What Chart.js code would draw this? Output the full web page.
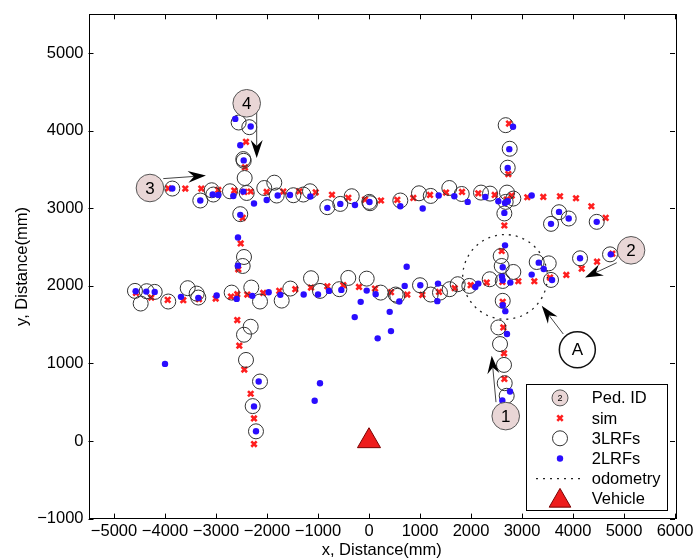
<!DOCTYPE html>
<html>
<head>
<meta charset="utf-8">
<script src="https://cdn.jsdelivr.net/npm/chart.js@4"></script>
<style>
  html, body { margin: 0; padding: 0; background: #fff; }
</style>
</head>
<body>
<canvas id="chart" width="695" height="560"></canvas>
<script>
// axis ticks
const xTicks = [-5000, -4000, -3000, -2000, -1000, 0, 1000, 2000, 3000, 4000, 5000, 6000];
const yTicks = [-1000, 0, 1000, 2000, 3000, 4000, 5000];

// sim (red crosses)
const simX = [-2412, -2432, -3935, -3602, -3288, -2955, -2641, -2445, -2320, -2006, -1680, -1367, -1045, -726, -406, -78,
  235, 555, 869, 1196, 1510, 1824, 2143, 2465, 2700, 2798, 3104, 3418, 3745, 4059, 4360, 4641, 2745, 2732, 2654, 2602,
  -2477, -2516, -2563, -2583, -2543, -2445, -2320, -2255, -2255,
  -4569, -4269, -3947, -3641, -3334, -3006, -2706, -2583, -2386, -2073, -1759, -1445, -1137, -817, -504, -196,
  118, 431, 751, 1045, 1373, 1680, 1994, 2308, 2615, 2928, 3242, 3549, 3869, 4171, 4471, 4771,
  2622, 2634, 2647, 2654];
const simY = [3857, 3527, 3257, 3254, 3254, 3236, 3228, 3210, 3216, 3210, 3215, 3219, 3206, 3174, 3135, 3112,
  3100, 3108, 3133, 3172, 3202, 3210, 3193, 3172, 3112, 3164, 3142, 3146, 3155, 3129, 3026, 2876, 4092, 3441, 2778, 2449,
  2876, 2547, 2213, 1559, 1229, 921, 609, 291, -39,
  1909, 1849, 1819, 1815, 1828, 1836, 1862, 1892, 1888, 1909, 1935, 1957, 1978, 1995, 2008, 1986,
  1965, 1918, 1888, 1884, 1922, 1970, 2008, 2042, 2051, 2059, 2059, 2106, 2141, 2222, 2311, 2414,
  1794, 1464, 1130, 801];

// 3LRFs (open circles)
const lrf3X = [-2556, -2347, -2465, -2457, -2438, -3857, -3308, -3085, -3052, -2726, -2398, -2053, -1857, -1810, -1484, -1288,
  -1157, -817, -563, -339, 6, 20, 614, 980, 1210, 1575, 1818, 2196, 2373, 2706, 2830, 2680, 2654, 3569, 3726, 3916, 4465,
  2680, 2759, 2720, -2524,
  -2451, -2477, -2320, -2451, -2412, -2137, -2281, -2216,
  -4589, -4360, -4202, -4477, -3936, -3555, -3379, -3347, -2693, -2308, -2137, -1712, -1543, -1137, -961, -582, -406, -45,
  229, 523, 555, 1000, 1210, 1392, 1582, 1739, 1967, 2367,
  2582, 2602, 2830, 2622, 3288, 3524, 3569, 4138, 4726, 2622, 2536, 2569, 2647, 2661, 2700];
const lrf3Y = [4105, 4045, 3634, 3612, 3390, 3254, 3100, 3232, 3177, 3219, 3197, 3261, 3330, 3164, 3168, 3177,
  3219, 3014, 3056, 3155, 3082, 3065, 3100, 3193, 3159, 3261, 3184, 3202, 3189, 3202, 3125, 3082, 2933, 2799, 2949, 2868, 2825,
  4071, 3767, 3523, 2924,
  2372, 2256, 1473, 1370, 1045, 767, 450, 125,
  1935, 1931, 1922, 1772, 1798, 1970, 1900, 1849, 1913, 1978, 1798, 1810, 1965, 2098, 1935, 1957, 2102, 2093,
  1913, 1888, 1871, 2008, 1888, 1913, 1957, 2021, 1999, 2085,
  2384, 2256, 2179, 2063, 2307, 2290, 2076, 2355, 2406, 1807, 1464, 1250, 981, 745, 583];

// 2LRFs (blue dots)
const lrf2X = [-2622, -2320, -2524, -2457, -3857, -3308, -3065, -2955, -2661, -2465, -2255, -2006, -1790, -1549, -1151, -817,
  -563, -275, 10, 614, 1053, 1367, 1673, 1935, 2281, 2536, 2667, 2720, 2654, 3190, 3569, 3726, 3916, 4465, 2824, 2751, 2720, -2524,
  -2569, -2569, -2163, -2255, -2216,
  -4575, -4367, -4202, -3687, -3347, -2987, -2594, -2288, -1967, -1739, -1281, -1000, -784, -543, -45, 131, 700, 1006, 594,
  1353, 1340, 2085, 2143, -163, -280, 739, 406, 431, 170, -4000, -1065, -961,
  2667, 2622, 2608, 2622, 2771, 3328, 3426, 3589, 3190, 4138, 4740, 2622, 2673, 2706, 2765, 2614];
const lrf2Y = [4152, 4054, 3813, 3617, 3254, 3100, 3177, 3171, 3159, 3215, 3061, 3107, 3164, 3171, 3151, 3005,
  3056, 3043, 3080, 3026, 2997, 3164, 3155, 3082, 3146, 3091, 3069, 3091, 2940, 3164, 2799, 2953, 2868, 2825, 4050, 3762, 3518, 2915,
  2624, 2260, 767, 446, 125,
  1931, 1926, 1922, 1858, 1845, 1875, 1832, 1871, 1918, 1884, 1888, 1888, 1935, 1948, 1939, 1893, 1999, 2008, 1798,
  2029, 1803, 1986, 2029, 1794, 1597, 2247, 1665, 1417, 1323, 994, 519, 745,
  2522, 2239, 2119, 2072, 2042, 2299, 2218, 2076, 2145, 2355, 2406, 1751, 1674, 1379, 638, 523];

// vehicle
const vehicleX = [0];
const vehicleY = [0];

// odometry ring (centre in mm, radius in mm along x)
const odoCenter = [2667, 2115];
const odoRadius = 830;

// pedestrian id labels and their arrows
const pedIds = ['1', '2', '3', '4'];
const pedX = [2681, 5138, -4295, -2398];
const pedY = [321, 2458, 3261, 4353];
const arrowFromX = [2490, 4857, -4034, -2202, 3810];
const arrowFromY = [501, 2298, 3382, 4310, 1379];
const arrowToX = [2406, 4236, -3197, -2202, 3387];
const arrowToY = [1100, 2106, 3421, 3647, 1742];
const markA = { text: 'A', x: 4085, y: 1177 };

const FONT = "'Liberation Sans', Arial, sans-serif";
const RED = '#ff1f1f';
const BLUE = '#2a0dff';
const PINK = '#e9d6d6';

function zip(xs, ys) {
  return xs.map((x, i) => ({ x: x, y: ys[i] }));
}

function drawArrow(ctx, x1, y1, x2, y2) {
  const ang = Math.atan2(y2 - y1, x2 - x1);
  const len = 18, half = 6, notch = 12;
  ctx.strokeStyle = '#444';
  ctx.lineWidth = 1;
  ctx.beginPath();
  ctx.moveTo(x1, y1);
  ctx.lineTo(x2 - Math.cos(ang) * notch, y2 - Math.sin(ang) * notch);
  ctx.stroke();
  ctx.save();
  ctx.translate(x2, y2);
  ctx.rotate(ang);
  ctx.fillStyle = '#000';
  ctx.beginPath();
  ctx.moveTo(0, 0);
  ctx.lineTo(-len, -half);
  ctx.lineTo(-notch, 0);
  ctx.lineTo(-len, half);
  ctx.closePath();
  ctx.fill();
  ctx.restore();
}

function badge(ctx, x, y, r, text, fill, size) {
  ctx.beginPath();
  ctx.arc(x, y, r, 0, Math.PI * 2);
  ctx.fillStyle = fill;
  ctx.fill();
  ctx.lineWidth = 1;
  ctx.strokeStyle = '#555';
  ctx.stroke();
  ctx.fillStyle = '#000';
  ctx.font = size + 'px ' + FONT;
  ctx.textAlign = 'center';
  ctx.textBaseline = 'middle';
  ctx.fillText(text, x, y + 1);
}

const decorations = {
  id: 'decorations',
  beforeDatasetsDraw(chart) {
    const { ctx, scales: { x, y } } = chart;
    // odometry dotted ring
    const cx = x.getPixelForValue(odoCenter[0]);
    const cy = y.getPixelForValue(odoCenter[1]);
    const r = x.getPixelForValue(odoCenter[0] + odoRadius) - cx;
    ctx.save();
    ctx.strokeStyle = '#222';
    ctx.lineWidth = 1.3;
    ctx.setLineDash([2, 5]);
    ctx.beginPath();
    ctx.arc(cx, cy, r, 0, Math.PI * 2);
    ctx.stroke();
    ctx.restore();
  },
  afterDatasetsDraw(chart) {
    const { ctx, chartArea: a, scales: { x, y } } = chart;
    ctx.save();
    // frame and inward ticks
    ctx.strokeStyle = '#000';
    ctx.lineWidth = 1;
    ctx.strokeRect(Math.round(a.left) + 0.5, Math.round(a.top) + 0.5, Math.round(a.right - a.left), Math.round(a.bottom - a.top));
    ctx.beginPath();
    xTicks.forEach(v => {
      const px = Math.round(x.getPixelForValue(v)) + 0.5;
      ctx.moveTo(px, a.bottom); ctx.lineTo(px, a.bottom - 5);
      ctx.moveTo(px, a.top); ctx.lineTo(px, a.top + 5);
    });
    yTicks.forEach(v => {
      const py = Math.round(y.getPixelForValue(v)) + 0.5;
      ctx.moveTo(a.left, py); ctx.lineTo(a.left + 5, py);
      ctx.moveTo(a.right, py); ctx.lineTo(a.right - 5, py);
    });
    ctx.stroke();

    // arrows
    arrowFromX.forEach((v, i) => {
      drawArrow(ctx, x.getPixelForValue(v), y.getPixelForValue(arrowFromY[i]),
        x.getPixelForValue(arrowToX[i]), y.getPixelForValue(arrowToY[i]));
    });
    // pedestrian labels
    pedIds.forEach((t, i) => {
      badge(ctx, x.getPixelForValue(pedX[i]), y.getPixelForValue(pedY[i]), 13.8, t, PINK, 17);
    });
    // mark A
    ctx.lineWidth = 1.5;
    ctx.beginPath();
    ctx.arc(x.getPixelForValue(markA.x), y.getPixelForValue(markA.y), 18, 0, Math.PI * 2);
    ctx.fillStyle = '#fff';
    ctx.fill();
    ctx.strokeStyle = '#111';
    ctx.stroke();
    ctx.fillStyle = '#000';
    ctx.font = '17px ' + FONT;
    ctx.textAlign = 'center';
    ctx.textBaseline = 'middle';
    ctx.fillText(markA.text, x.getPixelForValue(markA.x), y.getPixelForValue(markA.y) + 1);

    // legend
    const L = { left: a.right - 149.3, top: a.bottom - 134.2, right: a.right - 8.3, bottom: a.bottom - 8.5 };
    ctx.fillStyle = '#fff';
    ctx.fillRect(L.left, L.top, L.right - L.left, L.bottom - L.top);
    ctx.strokeStyle = '#000';
    ctx.lineWidth = 1;
    ctx.strokeRect(Math.round(L.left) + 0.5, Math.round(L.top) + 0.5, Math.round(L.right - L.left), Math.round(L.bottom - L.top));
    const sx = L.left + 34.3, tx = L.left + 66;
    const rows = ['Ped. ID', 'sim', '3LRFs', '2LRFs', 'odometry', 'Vehicle'];
    rows.forEach((label, i) => {
      const ry = L.top + 13.5 + i * 20.2;
      if (i === 0) {
        badge(ctx, sx, ry, 8, '2', PINK, 9);
      } else if (i === 1) {
        ctx.strokeStyle = RED; ctx.lineWidth = 2.6;
        ctx.beginPath();
        ctx.moveTo(sx - 2.7, ry - 2.7); ctx.lineTo(sx + 2.7, ry + 2.7);
        ctx.moveTo(sx - 2.7, ry + 2.7); ctx.lineTo(sx + 2.7, ry - 2.7);
        ctx.stroke();
      } else if (i === 2) {
        ctx.strokeStyle = '#333'; ctx.lineWidth = 1;
        ctx.beginPath(); ctx.arc(sx, ry, 7.5, 0, Math.PI * 2); ctx.stroke();
      } else if (i === 3) {
        ctx.fillStyle = BLUE;
        ctx.beginPath(); ctx.arc(sx, ry, 3.2, 0, Math.PI * 2); ctx.fill();
      } else if (i === 4) {
        ctx.save();
        ctx.strokeStyle = '#222'; ctx.lineWidth = 1.3; ctx.setLineDash([2, 5]);
        ctx.beginPath(); ctx.moveTo(sx - 24, ry); ctx.lineTo(sx + 24, ry); ctx.stroke();
        ctx.restore();
      } else {
        const r = 12.5;
        ctx.beginPath();
        ctx.moveTo(sx, ry - r + 2);
        ctx.lineTo(sx + 0.866 * r, ry + 0.5 * r + 2);
        ctx.lineTo(sx - 0.866 * r, ry + 0.5 * r + 2);
        ctx.closePath();
        ctx.fillStyle = '#ee1c1c'; ctx.fill();
        ctx.strokeStyle = '#7a0000'; ctx.lineWidth = 1; ctx.stroke();
      }
      ctx.fillStyle = '#000';
      ctx.font = '16.5px ' + FONT;
      ctx.textAlign = 'left';
      ctx.textBaseline = 'middle';
      ctx.fillText(label, tx, ry + 1);
    });
    ctx.restore();
  }
};

new Chart(document.getElementById('chart').getContext('2d'), {
  type: 'scatter',
  data: {
    datasets: [
      {
        label: '2LRFs',
        data: zip(lrf2X, lrf2Y),
        pointStyle: 'circle',
        pointRadius: 3.2,
        backgroundColor: BLUE,
        borderWidth: 0,
        order: 1
      },
      {
        label: '3LRFs',
        data: zip(lrf3X, lrf3Y),
        pointStyle: 'circle',
        pointRadius: 7.5,
        backgroundColor: 'rgba(0,0,0,0)',
        borderColor: '#333',
        borderWidth: 1,
        order: 2
      },
      {
        label: 'sim',
        data: zip(simX, simY),
        pointStyle: 'crossRot',
        pointRadius: 3.8,
        borderColor: RED,
        borderWidth: 2.6,
        order: 3
      },
      {
        label: 'Vehicle',
        data: zip(vehicleX, vehicleY),
        pointStyle: 'triangle',
        pointRadius: 13.3,
        backgroundColor: '#ee1c1c',
        borderColor: '#7a0000',
        borderWidth: 1,
        order: 0
      }
    ]
  },
  options: {
    responsive: false,
    animation: false,
    events: [],
    layout: { padding: { top: 12.3, right: 20, left: 0, bottom: 0 } },
    plugins: {
      legend: { display: false },
      tooltip: { enabled: false }
    },
    scales: {
      x: {
        type: 'linear',
        min: -5500,
        max: 6000,
        afterBuildTicks: s => { s.ticks = xTicks.map(v => ({ value: v })); },
        afterFit: s => { s.height = 41.4; s.paddingLeft = 0; s.paddingRight = 0; },
        grid: { display: false, drawTicks: false },
        border: { display: false },
        ticks: {
          autoSkip: false,
          maxRotation: 0,
          padding: 3,
          color: '#000',
          font: { family: FONT, size: 16.5 },
          callback: v => String(v).replace('-', '\u2212')
        },
        title: {
          display: true,
          text: 'x, Distance(mm)',
          color: '#000',
          font: { family: FONT, size: 16.5 },
          padding: { top: 0, bottom: 0 }
        }
      },
      y: {
        type: 'linear',
        min: -1000,
        max: 5500,
        afterBuildTicks: s => { s.ticks = yTicks.map(v => ({ value: v })); },
        afterFit: s => { s.width = 88.5; s.paddingTop = 0; s.paddingBottom = 0; },
        grid: { display: false, drawTicks: false },
        border: { display: false },
        ticks: {
          autoSkip: false,
          padding: 5,
          color: '#000',
          font: { family: FONT, size: 16.5 },
          callback: v => String(v).replace('-', '\u2212')
        },
        title: {
          display: true,
          text: 'y, Distance(mm)',
          color: '#000',
          font: { family: FONT, size: 16.5 },
          padding: { top: 13, bottom: 0 }
        }
      }
    }
  },
  plugins: [decorations]
});
</script>
</body>
</html>
